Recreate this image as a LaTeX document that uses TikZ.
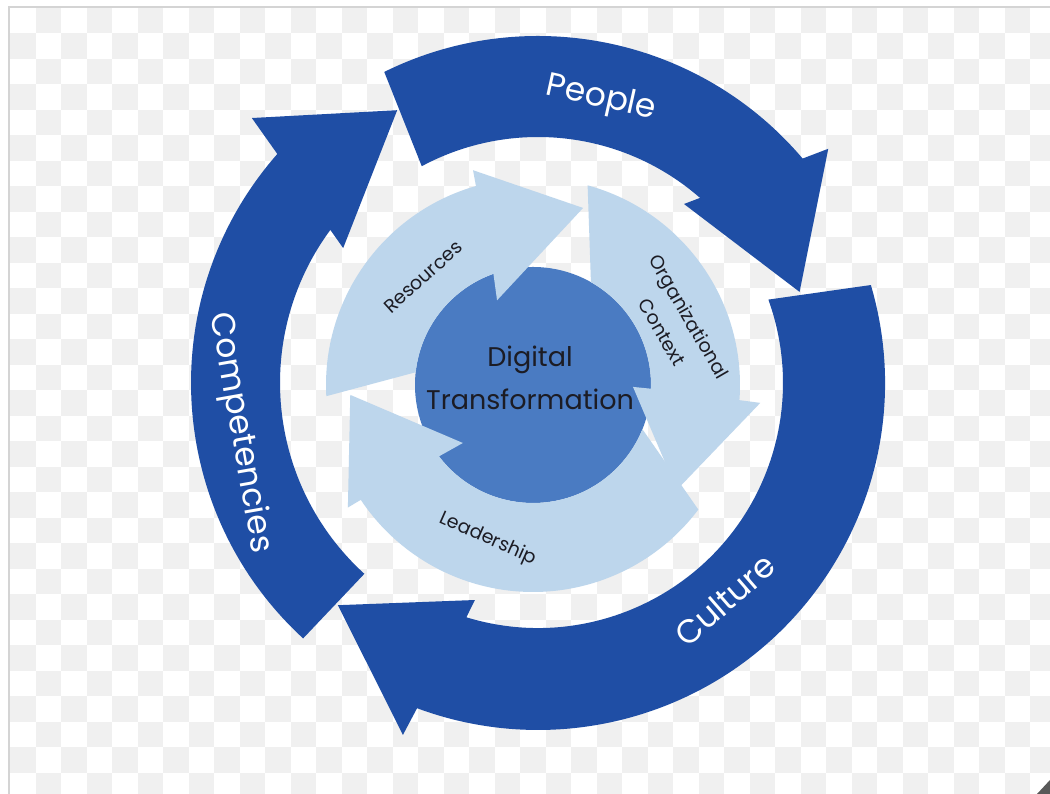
\documentclass[tikz,border=0pt]{standalone}
\usepackage{fontspec}
\setmainfont{Poppins}

\definecolor{ringblue}{HTML}{1F4EA5}
\definecolor{paleblue}{HTML}{BDD6EC}
\definecolor{coreblue}{HTML}{4A7BC2}
\definecolor{inktext}{HTML}{1C1C24}
\definecolor{checkgray}{HTML}{F0F0F0}
\definecolor{framegray}{HTML}{D4D4D4}

\newcommand{\ringfont}{\fontsize{33pt}{33pt}\selectfont}
\newcommand{\corefont}{\fontsize{27pt}{43pt}\selectfont}
\newcommand{\petalfont}{\fontsize{19pt}{31pt}\selectfont}

\begin{document}
\begin{tikzpicture}[x=1pt,y=1pt,
  outerarrow/.style={fill=ringblue},
  innerarrow/.style={fill=paleblue},
  ringlabel/.style={font=\ringfont,text=white,inner sep=0pt},
  petal/.style={font=\petalfont,text=inktext,inner sep=0pt}]

\useasboundingbox (0,0) rectangle (1050,794);
\fill[white] (0,0) rectangle (1050,794);

% faint checkerboard backdrop inside the frame
\begin{scope}
  \clip (9,0) rectangle (1050,787);
  \foreach \i in {0,...,41}{
    \foreach \j in {0,...,31}{
      \pgfmathtruncatemacro\odd{mod(\i+\j,2)}
      \ifnum\odd=1
        \fill[checkgray] ({10+25.5*\i},{786-25.5*\j}) rectangle ++(25.5,-25.5);
      \fi
    }
  }
\end{scope}
\draw[framegray,line width=1.2] (9,0) -- (9,787) -- (1050,787);
\fill[black!65] (1037,0) -- (1050,14) -- (1050,0) -- cycle;

% outer ring of three circular arrows
\begin{scope}[shift={(538,411)}]
  % People
  \fill[outerarrow] (116.3:347) arc[start angle=116.3,end angle=40.3,radius=347]
    -- (38.9:373) -- (19.2:277) -- (50.8:231) -- (48.8:246)
    arc[start angle=48.8,end angle=118.2,radius=246] -- cycle;
  % Culture
  \fill[outerarrow] (16.4:347) arc[start angle=16.4,end angle=-110.4,radius=347]
    -- (-111:377) -- (-132:299) -- (-106.2:226) -- (-107:245)
    arc[start angle=-107,end angle=19.9,radius=245] -- cycle;
  % Competencies
  \fill[outerarrow] (227.4:347) arc[start angle=227.4,end angle=138.7,radius=347]
    -- (137.2:390) -- (117.3:307) -- (145.3:237) -- (143.6:258)
    arc[start angle=143.6,end angle=227.7,radius=258] -- cycle;
\end{scope}

\node[ringlabel,rotate=-12.5] (people) at (601,695) {People};
\node[ringlabel,rotate=41] (culture) at (725,194) {Culture};
\node[ringlabel,rotate=-80] (competencies) at (240,361) {Competencies};

% inner ring: core disc and three pale arrows
\begin{scope}[shift={(533,409)}]
  \fill[coreblue] (0,0) circle[radius=118];
  % Resources
  \fill[innerarrow] (183.1:207) arc[start angle=183.1,end angle=106,radius=207]
    -- (105.6:223) -- (74.2:184) -- (113:92) -- (109.6:118)
    arc[start angle=109.6,end angle=173.8,radius=118] -- cycle;
  % Organizational Context
  \fill[innerarrow] (74.7:207) arc[start angle=74.7,end angle=-4.2,radius=207]
    -- (-4.5:228) -- (-36.1:178) -- (-1.1:100) -- (-1.8:118)
    arc[start angle=-1.8,end angle=60.6,radius=118] -- cycle;
  % Leadership
  \fill[innerarrow] (-37:207) arc[start angle=-37,end angle=-146.3,radius=207]
    -- (-146.5:222) -- (-176.9:183) -- (-140.4:91) -- (-142.8:118)
    arc[start angle=-142.8,end angle=-22,radius=118] -- cycle;
\end{scope}

\node[font=\corefont,text=inktext,align=center,inner sep=0pt] (core) at (530,416)
  {Digital\\Transformation};
\node[petal,rotate=42] (resources) at (423,517) {Resources};
\node[petal,rotate=-60,align=center] (context) at (676,469.5) {Organizational\\Context};
\node[petal,rotate=-24] (leadership) at (488,255) {Leadership};

\end{tikzpicture}
\end{document}
